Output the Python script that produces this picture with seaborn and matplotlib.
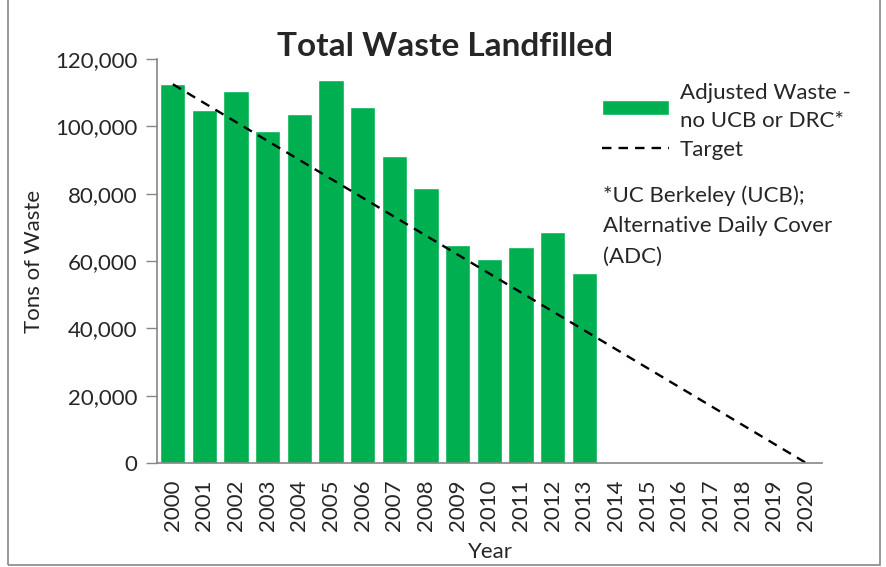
import matplotlib
matplotlib.use('Agg')
import matplotlib.pyplot as plt
import seaborn as sns
import pandas as pd
from matplotlib.ticker import FuncFormatter, FixedLocator
from matplotlib.patches import Rectangle

# --- DATA ---
ANOS = [str(a) for a in range(2000, 2021)]
ANOS_REAIS = [str(a) for a in range(2000, 2014)]
RESIDUO_AJUSTADO = [112500, 104800, 110500, 98500, 103700, 113900, 105800,
                    91300, 81800, 64800, 60700, 64300, 68500, 56300]
META_ANOS = ['2000', '2020']
META_VALORES = [112500, 0]

VERDE = '#00B050'
CINZA = '#868686'
FS = 16

sns.set_theme(style='white')
plt.rcParams['font.family'] = ['Lato', 'DejaVu Sans']

fig = plt.figure(figsize=(8.87, 5.67), dpi=100)
ax = fig.add_axes([157/887, 1 - 463/567, (822 - 157)/887, (463 - 59)/567])

df = pd.DataFrame({'Ano': ANOS_REAIS, 'Residuo': RESIDUO_AJUSTADO})
sns.barplot(data=df, x='Ano', y='Residuo', order=ANOS, color=VERDE,
            saturation=1, width=0.8, ax=ax, label='Adjusted Waste -\nno UCB or DRC*')

pos_meta = [ANOS.index(a) for a in META_ANOS]
ax.plot(pos_meta, META_VALORES, color='black', linestyle=(0, (4, 3)), lw=1.7, label='Target')

ax.set_xlim(-0.5, len(ANOS) - 0.5)
ax.set_ylim(0, 120000)
ax.set_yticks(range(0, 120001, 20000))
ax.yaxis.set_major_formatter(FuncFormatter(lambda v, p: f'{int(v):,}'))
ax.set_xticks(range(len(ANOS)))
ax.set_xticklabels(ANOS, rotation=90)
ax.xaxis.set_minor_locator(FixedLocator([i - 0.5 for i in range(len(ANOS) + 1)]))
ax.tick_params(axis='x', which='major', length=0, pad=12, labelsize=FS)
ax.tick_params(axis='x', which='minor', length=8, color=CINZA, width=1, direction='out')
ax.tick_params(axis='y', length=8, color=CINZA, width=1, direction='out', labelsize=FS, left=True, pad=6)

for lado in ['top', 'right']:
    ax.spines[lado].set_visible(False)
for lado in ['left', 'bottom']:
    ax.spines[lado].set_color(CINZA)
    ax.spines[lado].set_linewidth(1.2)

ax.set_xlabel('Year', fontsize=FS)
ax.xaxis.set_label_coords((490 - 157) / 665, (463 - 552) / 404)
ax.xaxis.label.set_va('center')
ax.set_ylabel('Tons of Waste', fontsize=FS, labelpad=8)

fig.text(445/887, 1 - 47/567, 'Total Waste Landfilled', ha='center', va='center',
         fontsize=24, fontweight='bold')

handles, labels = ax.get_legend_handles_labels()
ordem = [labels.index('Adjusted Waste -\nno UCB or DRC*'), labels.index('Target')]
ax.legend([handles[i] for i in ordem], [labels[i] for i in ordem],
          loc='upper left', bbox_to_anchor=(591/887, 1 - 72/567), bbox_transform=fig.transFigure,
          frameon=False, handlelength=3.0, handletextpad=0.5, labelspacing=0.4,
          borderpad=0, prop={'size': FS})
for t in ax.get_legend().get_texts():
    t.set_linespacing(1.5)
fig.text(603/887, 1 - 226/567, '*UC Berkeley (UCB);\nAlternative Daily Cover\n(ADC)',
         ha='left', va='center', fontsize=FS, linespacing=1.65)

fig.patches.append(Rectangle((8/887, 0.003), (880 - 8)/887, 1.2, transform=fig.transFigure,
                             fill=False, edgecolor=CINZA, lw=1.2))

fig.savefig('out.png', dpi=100)
